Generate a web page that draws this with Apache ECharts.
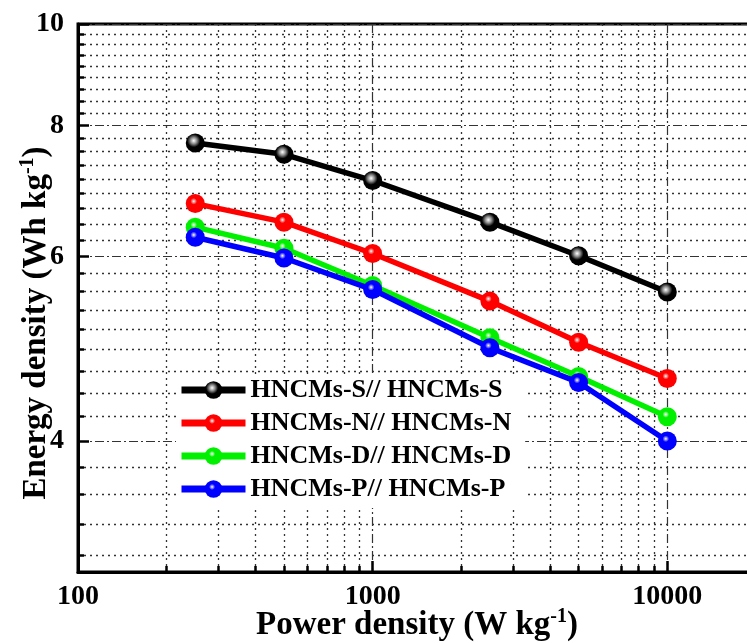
<!DOCTYPE html>
<html><head><meta charset="utf-8">
<script src="https://cdn.jsdelivr.net/npm/echarts@6/dist/echarts.min.js"></script>
<style>html,body{margin:0;padding:0;background:#fff}#c{width:747px;height:643px}</style>
</head><body><div id="c"></div>
<script>
// ---- data ----
const powerDensity = [250, 500, 1000, 2500, 5000, 10000];
const seriesNames = ['HNCMs-S// HNCMs-S', 'HNCMs-N// HNCMs-N', 'HNCMs-D// HNCMs-D', 'HNCMs-P// HNCMs-P'];
const energyS = [7.70, 7.51, 7.09, 6.47, 6.01, 5.55];
const energyN = [6.74, 6.47, 6.04, 5.44, 4.97, 4.59];
const energyD = [6.40, 6.11, 5.63, 5.02, 4.61, 4.22];
const energyP = [6.26, 5.98, 5.58, 4.91, 4.55, 4.00];
const seriesColors = ['#000000', '#ff0000', '#00f000', '#0000ff'];
const xMajorTicks = [100, 1000, 10000];
const xMinorTicks = [200, 300, 400, 500, 600, 700, 800, 900, 2000, 3000, 4000, 5000, 6000, 7000, 8000, 9000];
const yMajorTicks = [4, 6, 8, 10];
const yMajorStep = 2, yMinorCount = 8;

// minor y ticks: 8 minor ticks between each pair of major ticks
const yMinorTicks = [];
for (let m = 2; m < 10; m += yMajorStep) {
  for (let k = 1; k <= yMinorCount; k++) {
    const v = m + k * yMajorStep / (yMinorCount + 1);
    if (v >= 3 && v <= 10) yMinorTicks.push(v);
  }
}

const FONT = "'Liberation Serif', 'Times New Roman', serif";
const allEnergy = [energyS, energyN, energyD, energyP];

function ball(c) {
  return {
    type: 'radial', x: 0.42, y: 0.38, r: 0.62,
    colorStops: [
      { offset: 0, color: '#ffffff' },
      { offset: 0.28, color: c === '#000000' ? '#888888' : c },
      { offset: 0.55, color: c },
      { offset: 1, color: c }
    ]
  };
}

const chart = echarts.init(document.getElementById('c'), null, { renderer: 'canvas' });

const nameRich = {
  t: { fontFamily: FONT, fontWeight: 'bold', fontSize: 33, color: '#000', lineHeight: 36 },
  s: { fontFamily: FONT, fontWeight: 'bold', fontSize: 20, color: '#000', verticalAlign: 'top', lineHeight: 20 }
};

chart.setOption({
  animation: false,
  backgroundColor: '#ffffff',
  grid: { left: 78, top: 24, right: -9, bottom: 71, show: true, borderColor: '#000', borderWidth: 3, backgroundColor: 'transparent', containLabel: false, outerBoundsMode: 'none' },
  legend: {
    orient: 'vertical', left: 176, top: 376,
    padding: [1, 14, 6, 2],
    backgroundColor: '#ffffff',
    itemWidth: 64, itemHeight: 22, itemGap: 7,
    data: seriesNames,
    lineStyle: { width: 7 },
    textStyle: { fontFamily: FONT, fontWeight: 'bold', fontSize: 26, color: '#000' }
  },
  xAxis: [
    {
      type: 'log', logBase: 10, min: 100, max: 20000,
      position: 'bottom',
      axisLine: { show: true, lineStyle: { color: '#000', width: 3 } },
      axisTick: { show: true, inside: true, length: 11, customValues: xMajorTicks, lineStyle: { color: '#000', width: 2.5 } },
      axisLabel: { customValues: xMajorTicks, fontFamily: FONT, fontWeight: 'bold', fontSize: 28, color: '#000', margin: 11, formatter: v => String(Math.round(v)) },
      splitLine: { show: true, lineStyle: { color: '#333', width: 1.2, type: [9, 3, 2, 3] } },
      name: '{t|Power density (W kg}{s|-1}{t|)}',
      nameLocation: 'middle', nameGap: 35, nameMoveOverlap: false,
      nameTextStyle: { rich: nameRich }
    },
    {
      type: 'log', logBase: 10, min: 100, max: 20000,
      position: 'bottom',
      axisLine: { show: false },
      axisTick: { show: true, inside: true, length: 6, customValues: xMinorTicks, lineStyle: { color: '#000', width: 2.5 } },
      axisLabel: { show: false },
      splitLine: { show: true, lineStyle: { color: '#333', width: 1.3, type: [2, 4] } }
    }
  ],
  yAxis: [
    {
      type: 'log', logBase: 10, min: 3, max: 10,
      position: 'left',
      axisLine: { show: true, lineStyle: { color: '#000', width: 3 } },
      axisTick: { show: true, inside: true, length: 11, customValues: yMajorTicks, lineStyle: { color: '#000', width: 2.5 } },
      axisLabel: { customValues: yMajorTicks, fontFamily: FONT, fontWeight: 'bold', fontSize: 28, color: '#000', margin: 14, formatter: v => String(Math.round(v)) },
      splitLine: { show: true, lineStyle: { color: '#333', width: 1.2, type: [9, 3, 2, 3] } },
      name: '{t|Energy density (Wh kg}{s|-1}{t|)}',
      nameLocation: 'middle', nameGap: 24, nameMoveOverlap: false,
      nameTextStyle: { rich: nameRich, padding: [0, 50, 0, 0] }
    },
    {
      type: 'log', logBase: 10, min: 3, max: 10,
      position: 'left',
      axisLine: { show: false },
      axisTick: { show: true, inside: true, length: 6, customValues: yMinorTicks, lineStyle: { color: '#000', width: 2.5 } },
      axisLabel: { show: false },
      splitLine: { show: true, lineStyle: { color: '#333', width: 1.3, type: [2, 4] } }
    }
  ],
  series: seriesNames.map((name, i) => ({
    name: name,
    type: 'line',
    xAxisIndex: 0, yAxisIndex: 0,
    data: powerDensity.map((x, j) => [x, allEnergy[i][j]]),
    symbol: 'circle', symbolSize: 19,
    lineStyle: { color: seriesColors[i], width: 5.5 },
    itemStyle: { color: ball(seriesColors[i]), borderWidth: 0 },
    emphasis: { disabled: true },
    z: 3 + i
  }))
});
</script>
</body></html>
